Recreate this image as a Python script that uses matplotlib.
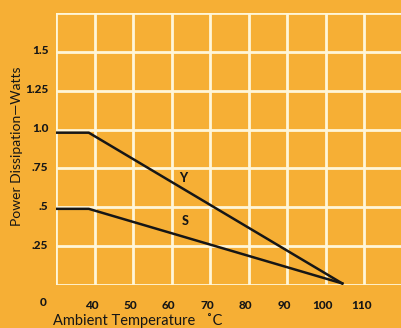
import matplotlib
matplotlib.use("Agg")
import matplotlib.pyplot as plt
import matplotlib.transforms as mtransforms

# Data
y_curve_x = [30, 38.5, 104.3]
y_curve_w = [0.98, 0.98, 0.01]
s_curve_x = [30, 38.5, 104.3]
s_curve_w = [0.49, 0.49, 0.01]
x_ticks = [40, 50, 60, 70, 80, 90, 100, 110]
x_tick_labels = ["40", "50", "60", "70", "80", "90", "100", "110"]
y_ticks = [0.25, 0.5, 0.75, 1.0, 1.25, 1.5]
y_tick_labels = [".25", ".5", ".75", "1.0", "1.25", "1.5"]
curve_labels = ["Y", "S"]
curve_label_pos = [(63, 0.69), (63.5, 0.41)]

BG = "#F6AF35"
GRID = "#FFF6D8"
INK = "#161616"

plt.rcParams['font.family'] = ['Lato', 'DejaVu Sans']

fig = plt.figure(figsize=(4.02, 3.28), dpi=100, facecolor=BG)
ax = fig.add_axes([56/402, 1 - 285/328, 1 - 56/402 + 0.002, (285 - 13)/328])
ax.set_facecolor(BG)
ax.set_xlim(30, 120)
ax.set_ylim(0, 1.75)

# grid
for x in range(30, 121, 10):
    ax.axvline(x, color=GRID, lw=2.0, zorder=1)
for k in range(0, 8):
    ax.axhline(k * 0.25, color=GRID, lw=2.0, zorder=1)
for sp in ax.spines.values():
    sp.set_visible(False)

ax.plot(y_curve_x, y_curve_w, color=INK, lw=1.8, zorder=3, solid_joinstyle='miter')
ax.plot(s_curve_x, s_curve_w, color=INK, lw=1.8, zorder=3, solid_joinstyle='miter')

for lab, (lx, ly) in zip(curve_labels, curve_label_pos):
    ax.text(lx, ly, lab, fontsize=9, fontweight='black', color=INK,
            ha='center', va='center', zorder=4)

ax.set_xticks(x_ticks)
ax.set_xticklabels(x_tick_labels, fontsize=8.5, fontweight='black', color=INK)
ax.set_yticks(y_ticks)
ax.set_yticklabels(y_tick_labels, fontsize=8.5, fontweight='black', color=INK)
ax.tick_params(length=0)
ax.tick_params(axis='x', pad=11)
ax.tick_params(axis='y', pad=5.5)

offx = mtransforms.ScaledTranslation(-3/100, 0, fig.dpi_scale_trans)
for t in ax.get_xticklabels():
    t.set_transform(t.get_transform() + offx)
offy = mtransforms.ScaledTranslation(0, 2/100, fig.dpi_scale_trans)
for t in ax.get_yticklabels():
    t.set_transform(t.get_transform() + offy)

# the "0" label at the broken axis origin
fig.text(43/402, 1 - 303/328, "0", fontsize=8.5, fontweight='black', color=INK,
         ha='center', va='center')

fig.text(53/402, 1 - 321/328, "Ambient Temperature   \u02daC", fontsize=10.5,
         color=INK, ha='left', va='center')
fig.text(17/402, 1 - 146/328, "Power Dissipation\u2014Watts", fontsize=10,
         color=INK, ha='center', va='center', rotation=90)

fig.savefig("out.png", dpi=100, facecolor=BG)
